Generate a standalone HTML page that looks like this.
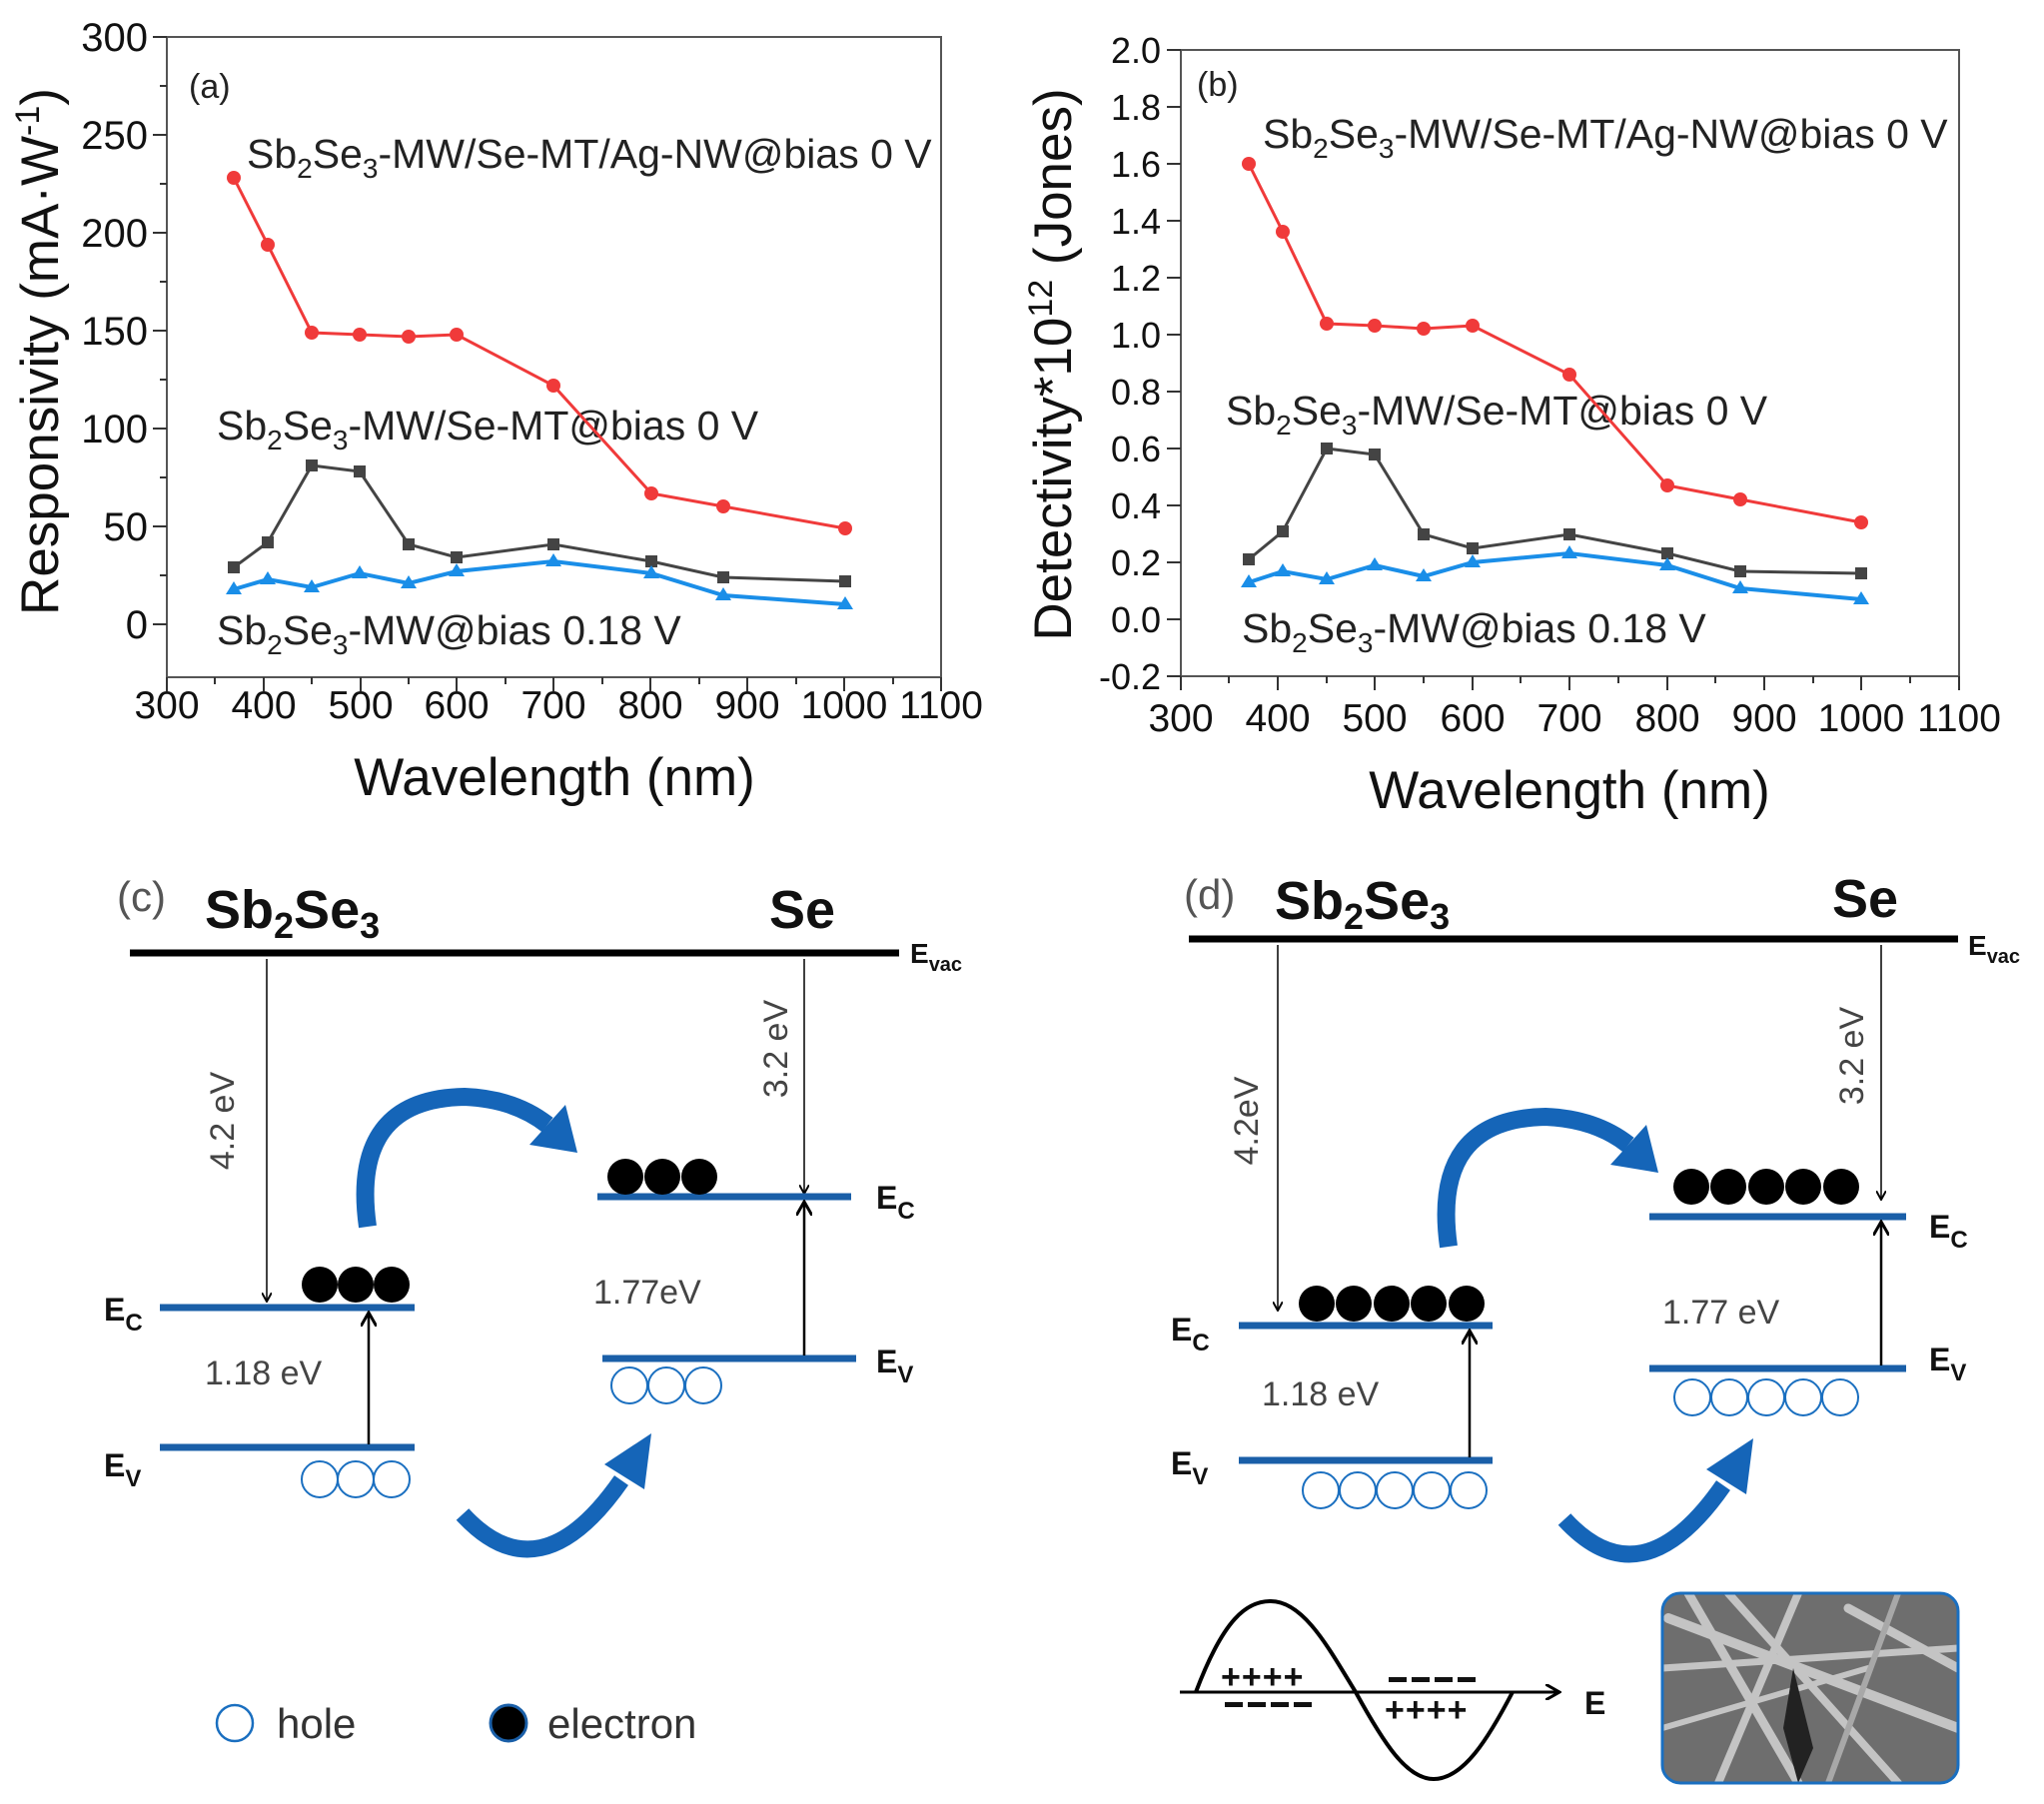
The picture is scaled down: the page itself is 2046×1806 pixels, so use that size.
<!DOCTYPE html>
<html><head><meta charset="utf-8"><style>
html,body{margin:0;padding:0;background:#fff}
svg{display:block}
text{font-family:"Liberation Sans",sans-serif}
</style></head><body>
<svg width="2046" height="1806" viewBox="0 0 2046 1806" xmlns="http://www.w3.org/2000/svg">
<defs>
<marker id="ah" markerWidth="10" markerHeight="10" refX="8" refY="5" orient="auto" markerUnits="userSpaceOnUse"><path d="M0,0 L9,5 L0,10" fill="none" stroke="#000" stroke-width="2"/></marker>
<marker id="ah2" markerWidth="16" markerHeight="16" refX="13" refY="8" orient="auto" markerUnits="userSpaceOnUse"><path d="M0,0 L14,8 L0,16" fill="none" stroke="#000" stroke-width="3"/></marker>
<clipPath id="semclip"><rect x="1664" y="1595" width="296" height="190" rx="18"/></clipPath>
</defs>

<!-- ============ (a) ============ -->
<rect x="167" y="37" width="775" height="641" fill="none" stroke="#555" stroke-width="2"/>
<g stroke="#333" stroke-width="2">
<line x1="153" y1="625" x2="167" y2="625"/><line x1="153" y1="527" x2="167" y2="527"/><line x1="153" y1="429" x2="167" y2="429"/><line x1="153" y1="331" x2="167" y2="331"/><line x1="153" y1="233" x2="167" y2="233"/><line x1="153" y1="135" x2="167" y2="135"/><line x1="153" y1="37" x2="167" y2="37"/>
<line x1="160" y1="576" x2="167" y2="576"/><line x1="160" y1="478" x2="167" y2="478"/><line x1="160" y1="380" x2="167" y2="380"/><line x1="160" y1="282" x2="167" y2="282"/><line x1="160" y1="184" x2="167" y2="184"/><line x1="160" y1="86" x2="167" y2="86"/>
<line x1="167" y1="678" x2="167" y2="692"/><line x1="264" y1="678" x2="264" y2="692"/><line x1="361" y1="678" x2="361" y2="692"/><line x1="457" y1="678" x2="457" y2="692"/><line x1="554" y1="678" x2="554" y2="692"/><line x1="651" y1="678" x2="651" y2="692"/><line x1="748" y1="678" x2="748" y2="692"/><line x1="845" y1="678" x2="845" y2="692"/><line x1="942" y1="678" x2="942" y2="692"/>
<line x1="215" y1="678" x2="215" y2="685"/><line x1="312" y1="678" x2="312" y2="685"/><line x1="409" y1="678" x2="409" y2="685"/><line x1="506" y1="678" x2="506" y2="685"/><line x1="603" y1="678" x2="603" y2="685"/><line x1="700" y1="678" x2="700" y2="685"/><line x1="797" y1="678" x2="797" y2="685"/><line x1="894" y1="678" x2="894" y2="685"/>
</g>
<g font-size="40" fill="#111" text-anchor="end">
<text x="148" y="639">0</text><text x="148" y="541">50</text><text x="148" y="443">100</text><text x="148" y="345">150</text><text x="148" y="247">200</text><text x="148" y="149">250</text><text x="148" y="51">300</text>
</g>
<g font-size="39" fill="#111" text-anchor="middle">
<text x="167" y="719">300</text><text x="264" y="719">400</text><text x="361" y="719">500</text><text x="457" y="719">600</text><text x="554" y="719">700</text><text x="651" y="719">800</text><text x="748" y="719">900</text><text x="845" y="719">1000</text><text x="942" y="719">1100</text>
</g>
<text x="555" y="796" font-size="53" text-anchor="middle" fill="#111">Wavelength (nm)</text>
<text transform="translate(58,352) rotate(-90)" font-size="53" text-anchor="middle" fill="#111">Responsivity (mA·W<tspan font-size="34" dy="-19">-1</tspan><tspan dy="19">)</tspan></text>
<text x="189" y="98" font-size="34" fill="#222">(a)</text>
<text x="247" y="168" font-size="41" fill="#222">Sb<tspan font-size="28" dy="10">2</tspan><tspan dy="-10">Se</tspan><tspan font-size="28" dy="10">3</tspan><tspan dy="-10">-MW/Se-MT/Ag-NW@bias 0 V</tspan></text>
<text x="217" y="440" font-size="41" fill="#222">Sb<tspan font-size="28" dy="10">2</tspan><tspan dy="-10">Se</tspan><tspan font-size="28" dy="10">3</tspan><tspan dy="-10">-MW/Se-MT@bias 0 V</tspan></text>
<text x="217" y="645" font-size="41" fill="#222">Sb<tspan font-size="28" dy="10">2</tspan><tspan dy="-10">Se</tspan><tspan font-size="28" dy="10">3</tspan><tspan dy="-10">-MW@bias 0.18 V</tspan></text>
<polyline fill="none" stroke="#f03a3a" stroke-width="3" points="234,178 268,245 312,333 360,335 409,337 457,335 554,386 652,494 724,507 846,529"/>
<g fill="#f03a3a"><circle cx="234" cy="178" r="7"/><circle cx="268" cy="245" r="7"/><circle cx="312" cy="333" r="7"/><circle cx="360" cy="335" r="7"/><circle cx="409" cy="337" r="7"/><circle cx="457" cy="335" r="7"/><circle cx="554" cy="386" r="7"/><circle cx="652" cy="494" r="7"/><circle cx="724" cy="507" r="7"/><circle cx="846" cy="529" r="7"/></g>
<polyline fill="none" stroke="#444" stroke-width="3" points="234,568 268,543 312,466 360,472 409,545 457,558 554,545 652,562 724,578 846,582"/>
<g fill="#444"><rect x="228" y="562" width="12" height="12"/><rect x="262" y="537" width="12" height="12"/><rect x="306" y="460" width="12" height="12"/><rect x="354" y="466" width="12" height="12"/><rect x="403" y="539" width="12" height="12"/><rect x="451" y="552" width="12" height="12"/><rect x="548" y="539" width="12" height="12"/><rect x="646" y="556" width="12" height="12"/><rect x="718" y="572" width="12" height="12"/><rect x="840" y="576" width="12" height="12"/></g>
<polyline fill="none" stroke="#1a8ee8" stroke-width="4" points="234,590 268,580 312,588 360,574 409,584 457,572 554,562 652,574 724,596 846,605"/>
<g fill="#1a8ee8"><path d="M234,582l8,13h-16z"/><path d="M268,572l8,13h-16z"/><path d="M312,580l8,13h-16z"/><path d="M360,566l8,13h-16z"/><path d="M409,576l8,13h-16z"/><path d="M457,564l8,13h-16z"/><path d="M554,554l8,13h-16z"/><path d="M652,566l8,13h-16z"/><path d="M724,588l8,13h-16z"/><path d="M846,597l8,13h-16z"/></g>

<!-- ============ (b) ============ -->
<rect x="1182" y="50" width="779" height="627" fill="none" stroke="#555" stroke-width="2"/>
<g stroke="#333" stroke-width="2">
<line x1="1168" y1="677" x2="1182" y2="677"/><line x1="1168" y1="620" x2="1182" y2="620"/><line x1="1168" y1="563" x2="1182" y2="563"/><line x1="1168" y1="506" x2="1182" y2="506"/><line x1="1168" y1="449" x2="1182" y2="449"/><line x1="1168" y1="392" x2="1182" y2="392"/><line x1="1168" y1="335" x2="1182" y2="335"/><line x1="1168" y1="278" x2="1182" y2="278"/><line x1="1168" y1="221" x2="1182" y2="221"/><line x1="1168" y1="164" x2="1182" y2="164"/><line x1="1168" y1="107" x2="1182" y2="107"/><line x1="1168" y1="50" x2="1182" y2="50"/>
<line x1="1182" y1="677" x2="1182" y2="691"/><line x1="1279" y1="677" x2="1279" y2="691"/><line x1="1376" y1="677" x2="1376" y2="691"/><line x1="1474" y1="677" x2="1474" y2="691"/><line x1="1571" y1="677" x2="1571" y2="691"/><line x1="1669" y1="677" x2="1669" y2="691"/><line x1="1766" y1="677" x2="1766" y2="691"/><line x1="1863" y1="677" x2="1863" y2="691"/><line x1="1961" y1="677" x2="1961" y2="691"/>
<line x1="1230" y1="677" x2="1230" y2="684"/><line x1="1328" y1="677" x2="1328" y2="684"/><line x1="1425" y1="677" x2="1425" y2="684"/><line x1="1522" y1="677" x2="1522" y2="684"/><line x1="1620" y1="677" x2="1620" y2="684"/><line x1="1717" y1="677" x2="1717" y2="684"/><line x1="1815" y1="677" x2="1815" y2="684"/><line x1="1912" y1="677" x2="1912" y2="684"/>
</g>
<g font-size="36" fill="#111" text-anchor="end">
<text x="1162" y="690">-0.2</text><text x="1162" y="633">0.0</text><text x="1162" y="576">0.2</text><text x="1162" y="519">0.4</text><text x="1162" y="462">0.6</text><text x="1162" y="405">0.8</text><text x="1162" y="348">1.0</text><text x="1162" y="291">1.2</text><text x="1162" y="234">1.4</text><text x="1162" y="177">1.6</text><text x="1162" y="120">1.8</text><text x="1162" y="63">2.0</text>
</g>
<g font-size="39" fill="#111" text-anchor="middle">
<text x="1182" y="732">300</text><text x="1279" y="732">400</text><text x="1376" y="732">500</text><text x="1474" y="732">600</text><text x="1571" y="732">700</text><text x="1669" y="732">800</text><text x="1766" y="732">900</text><text x="1863" y="732">1000</text><text x="1961" y="732">1100</text>
</g>
<text x="1571" y="809" font-size="53" text-anchor="middle" fill="#111">Wavelength (nm)</text>
<text transform="translate(1072,365) rotate(-90)" font-size="53" text-anchor="middle" fill="#111">Detectivity*10<tspan font-size="34" dy="-19">12</tspan><tspan dy="19"> (Jones)</tspan></text>
<text x="1198" y="96" font-size="34" fill="#222">(b)</text>
<text x="1264" y="148" font-size="41" fill="#222">Sb<tspan font-size="28" dy="10">2</tspan><tspan dy="-10">Se</tspan><tspan font-size="28" dy="10">3</tspan><tspan dy="-10">-MW/Se-MT/Ag-NW@bias 0 V</tspan></text>
<text x="1227" y="425" font-size="41" fill="#222">Sb<tspan font-size="28" dy="10">2</tspan><tspan dy="-10">Se</tspan><tspan font-size="28" dy="10">3</tspan><tspan dy="-10">-MW/Se-MT@bias 0 V</tspan></text>
<text x="1243" y="643" font-size="41" fill="#222">Sb<tspan font-size="28" dy="10">2</tspan><tspan dy="-10">Se</tspan><tspan font-size="28" dy="10">3</tspan><tspan dy="-10">-MW@bias 0.18 V</tspan></text>
<polyline fill="none" stroke="#f03a3a" stroke-width="3" points="1250,164 1284,232 1328,324 1376,326 1425,329 1474,326 1571,375 1669,486 1742,500 1863,523"/>
<g fill="#f03a3a"><circle cx="1250" cy="164" r="7"/><circle cx="1284" cy="232" r="7"/><circle cx="1328" cy="324" r="7"/><circle cx="1376" cy="326" r="7"/><circle cx="1425" cy="329" r="7"/><circle cx="1474" cy="326" r="7"/><circle cx="1571" cy="375" r="7"/><circle cx="1669" cy="486" r="7"/><circle cx="1742" cy="500" r="7"/><circle cx="1863" cy="523" r="7"/></g>
<polyline fill="none" stroke="#444" stroke-width="3" points="1250,560 1284,532 1328,449 1376,455 1425,535 1474,549 1571,535 1669,554 1742,572 1863,574"/>
<g fill="#444"><rect x="1244" y="554" width="12" height="12"/><rect x="1278" y="526" width="12" height="12"/><rect x="1322" y="443" width="12" height="12"/><rect x="1370" y="449" width="12" height="12"/><rect x="1419" y="529" width="12" height="12"/><rect x="1468" y="543" width="12" height="12"/><rect x="1565" y="529" width="12" height="12"/><rect x="1663" y="548" width="12" height="12"/><rect x="1736" y="566" width="12" height="12"/><rect x="1857" y="568" width="12" height="12"/></g>
<polyline fill="none" stroke="#1a8ee8" stroke-width="4" points="1250,583 1284,572 1328,580 1376,566 1425,577 1474,563 1571,554 1669,566 1742,589 1863,600"/>
<g fill="#1a8ee8"><path d="M1250,575l8,13h-16z"/><path d="M1284,564l8,13h-16z"/><path d="M1328,572l8,13h-16z"/><path d="M1376,558l8,13h-16z"/><path d="M1425,569l8,13h-16z"/><path d="M1474,555l8,13h-16z"/><path d="M1571,546l8,13h-16z"/><path d="M1669,558l8,13h-16z"/><path d="M1742,581l8,13h-16z"/><path d="M1863,592l8,13h-16z"/></g>

<!-- ============ (c) ============ -->
<text x="117" y="912" font-size="42" fill="#555">(c)</text>
<text x="205" y="929" font-size="54" font-weight="bold" fill="#111">Sb<tspan font-size="36" dy="10">2</tspan><tspan dy="-10">Se</tspan><tspan font-size="36" dy="10">3</tspan></text>
<text x="770" y="929" font-size="54" font-weight="bold" fill="#111">Se</text>
<line x1="130" y1="954" x2="900" y2="954" stroke="#000" stroke-width="7"/>
<text x="911" y="964" font-size="28" font-weight="bold" fill="#111">E<tspan font-size="20" dy="8">vac</tspan></text>
<line x1="267" y1="960" x2="267" y2="1302" stroke="#000" stroke-width="1.5" marker-end="url(#ah)"/>
<text transform="translate(234,1122) rotate(-90)" font-size="34" fill="#444" text-anchor="middle">4.2 eV</text>
<line x1="805" y1="960" x2="805" y2="1194" stroke="#000" stroke-width="1.5" marker-end="url(#ah)"/>
<text transform="translate(788,1050) rotate(-90)" font-size="34" fill="#444" text-anchor="middle">3.2 eV</text>
<g stroke="#1a5fa8" stroke-width="7">
<line x1="160" y1="1309" x2="415" y2="1309"/><line x1="160" y1="1449" x2="415" y2="1449"/>
<line x1="598" y1="1198" x2="852" y2="1198"/><line x1="603" y1="1360" x2="857" y2="1360"/>
</g>
<line x1="369" y1="1446" x2="369" y2="1315" stroke="#000" stroke-width="2.5" marker-end="url(#ah2)"/>
<line x1="805" y1="1357" x2="805" y2="1204" stroke="#000" stroke-width="2.5" marker-end="url(#ah2)"/>
<g fill="#000"><circle cx="320" cy="1286" r="18"/><circle cx="356" cy="1286" r="18"/><circle cx="392" cy="1286" r="18"/><circle cx="626" cy="1178" r="18"/><circle cx="663" cy="1178" r="18"/><circle cx="700" cy="1178" r="18"/></g>
<g fill="none" stroke="#1a6fc0" stroke-width="2"><circle cx="320" cy="1481" r="18"/><circle cx="356" cy="1481" r="18"/><circle cx="392" cy="1481" r="18"/><circle cx="630" cy="1387" r="18"/><circle cx="667" cy="1387" r="18"/><circle cx="704" cy="1387" r="18"/></g>
<text x="104" y="1322" font-size="32" font-weight="bold" fill="#111">E<tspan font-size="24" dy="10">C</tspan></text>
<text x="104" y="1478" font-size="32" font-weight="bold" fill="#111">E<tspan font-size="24" dy="10">V</tspan></text>
<text x="877" y="1210" font-size="32" font-weight="bold" fill="#111">E<tspan font-size="24" dy="10">C</tspan></text>
<text x="877" y="1374" font-size="32" font-weight="bold" fill="#111">E<tspan font-size="24" dy="10">V</tspan></text>
<text x="205" y="1386" font-size="34" fill="#444">1.18 eV</text>
<text x="594" y="1305" font-size="34" fill="#444">1.77eV</text>
<g>
<path d="M368,1228 Q350,1100 465,1098 Q515,1100 548,1126" fill="none" stroke="#1565b8" stroke-width="18"/>
<path d="M530,1146 L566,1106 L578,1154 Z" fill="#1565b8"/>
</g>
<g>
<path d="M463,1516 Q540,1600 622,1482" fill="none" stroke="#1565b8" stroke-width="17"/>
<path d="M605,1466 L645,1491 L652,1435 Z" fill="#1565b8"/>
</g>
<circle cx="235" cy="1725" r="18" fill="none" stroke="#1a6fc0" stroke-width="2.5"/>
<text x="277" y="1740" font-size="42" fill="#333">hole</text>
<circle cx="509" cy="1725" r="18" fill="#000" stroke="#1a5fa8" stroke-width="3"/>
<text x="548" y="1740" font-size="42" fill="#333">electron</text>

<!-- ============ (d) ============ -->
<text x="1185" y="910" font-size="42" fill="#555">(d)</text>
<text x="1276" y="920" font-size="54" font-weight="bold" fill="#111">Sb<tspan font-size="36" dy="10">2</tspan><tspan dy="-10">Se</tspan><tspan font-size="36" dy="10">3</tspan></text>
<text x="1834" y="918" font-size="54" font-weight="bold" fill="#111">Se</text>
<line x1="1190" y1="940" x2="1960" y2="940" stroke="#000" stroke-width="7"/>
<text x="1970" y="956" font-size="28" font-weight="bold" fill="#111">E<tspan font-size="20" dy="8">vac</tspan></text>
<line x1="1279" y1="946" x2="1279" y2="1311" stroke="#000" stroke-width="1.5" marker-end="url(#ah)"/>
<text transform="translate(1259,1122) rotate(-90)" font-size="34" fill="#444" text-anchor="middle">4.2eV</text>
<line x1="1883" y1="946" x2="1883" y2="1200" stroke="#000" stroke-width="1.5" marker-end="url(#ah)"/>
<text transform="translate(1865,1057) rotate(-90)" font-size="34" fill="#444" text-anchor="middle">3.2 eV</text>
<g stroke="#1a5fa8" stroke-width="7">
<line x1="1240" y1="1327" x2="1494" y2="1327"/><line x1="1240" y1="1462" x2="1494" y2="1462"/>
<line x1="1651" y1="1218" x2="1908" y2="1218"/><line x1="1651" y1="1370" x2="1908" y2="1370"/>
</g>
<line x1="1471" y1="1459" x2="1471" y2="1333" stroke="#000" stroke-width="2.5" marker-end="url(#ah2)"/>
<line x1="1883" y1="1367" x2="1883" y2="1224" stroke="#000" stroke-width="2.5" marker-end="url(#ah2)"/>
<g fill="#000"><circle cx="1318" cy="1305" r="18"/><circle cx="1355" cy="1305" r="18"/><circle cx="1393" cy="1305" r="18"/><circle cx="1430" cy="1305" r="18"/><circle cx="1468" cy="1305" r="18"/>
<circle cx="1693" cy="1188" r="18"/><circle cx="1730" cy="1188" r="18"/><circle cx="1768" cy="1188" r="18"/><circle cx="1805" cy="1188" r="18"/><circle cx="1843" cy="1188" r="18"/></g>
<g fill="none" stroke="#1a6fc0" stroke-width="2"><circle cx="1322" cy="1492" r="18"/><circle cx="1359" cy="1492" r="18"/><circle cx="1396" cy="1492" r="18"/><circle cx="1433" cy="1492" r="18"/><circle cx="1470" cy="1492" r="18"/>
<circle cx="1694" cy="1399" r="18"/><circle cx="1731" cy="1399" r="18"/><circle cx="1768" cy="1399" r="18"/><circle cx="1805" cy="1399" r="18"/><circle cx="1842" cy="1399" r="18"/></g>
<text x="1172" y="1342" font-size="32" font-weight="bold" fill="#111">E<tspan font-size="24" dy="10">C</tspan></text>
<text x="1172" y="1476" font-size="32" font-weight="bold" fill="#111">E<tspan font-size="24" dy="10">V</tspan></text>
<text x="1931" y="1239" font-size="32" font-weight="bold" fill="#111">E<tspan font-size="24" dy="10">C</tspan></text>
<text x="1931" y="1372" font-size="32" font-weight="bold" fill="#111">E<tspan font-size="24" dy="10">V</tspan></text>
<text x="1263" y="1407" font-size="34" fill="#444">1.18 eV</text>
<text x="1664" y="1325" font-size="34" fill="#444">1.77 eV</text>
<g transform="translate(1082,20)">
<path d="M368,1228 Q350,1100 465,1098 Q515,1100 548,1126" fill="none" stroke="#1565b8" stroke-width="18"/>
<path d="M530,1146 L566,1106 L578,1154 Z" fill="#1565b8"/>
</g>
<g transform="translate(1103,5)">
<path d="M463,1516 Q540,1600 622,1482" fill="none" stroke="#1565b8" stroke-width="17"/>
<path d="M605,1466 L645,1491 L652,1435 Z" fill="#1565b8"/>
</g>
<!-- sine -->
<line x1="1181" y1="1694" x2="1560" y2="1694" stroke="#000" stroke-width="3" marker-end="url(#ah2)"/>
<path d="M1197,1694 C1225,1620 1248,1603 1272,1603 C1305,1603 1330,1650 1357,1694 C1385,1745 1408,1781 1435,1781 C1465,1781 1490,1740 1514,1694" fill="none" stroke="#000" stroke-width="4"/>
<text x="1586" y="1716" font-size="32" font-weight="bold" fill="#111">E</text>
<g font-size="34" font-weight="bold" fill="#111">
<text x="1222" y="1690" letter-spacing="1">++++</text>
<text x="1386" y="1723" letter-spacing="1">++++</text>
</g>
<g fill="#111">
<rect x="1226" y="1704" width="18" height="5"/><rect x="1249" y="1704" width="18" height="5"/><rect x="1272" y="1704" width="18" height="5"/><rect x="1295" y="1704" width="18" height="5"/>
<rect x="1390" y="1679" width="18" height="5"/><rect x="1413" y="1679" width="18" height="5"/><rect x="1436" y="1679" width="18" height="5"/><rect x="1459" y="1679" width="18" height="5"/>
</g>
<!-- SEM -->
<g clip-path="url(#semclip)">
<rect x="1664" y="1595" width="296" height="190" fill="#6e6e6e"/>
<g stroke="#c4c4c4" stroke-linecap="round" fill="none">
<path d="M1670,1620 L1960,1730" stroke-width="10"/>
<path d="M1690,1595 L1800,1785" stroke-width="9"/>
<path d="M1730,1595 L1900,1785" stroke-width="8"/>
<path d="M1664,1670 L1960,1650" stroke-width="7"/>
<path d="M1800,1595 L1720,1785" stroke-width="8"/>
<path d="M1850,1610 L1960,1670" stroke-width="9"/>
<path d="M1664,1730 L1870,1670" stroke-width="6"/>
<path d="M1900,1595 L1830,1785" stroke-width="6" stroke="#a8a8a8"/>
</g>
<path d="M1795,1670 L1815,1750 L1800,1785 L1785,1730 Z" fill="#222"/>
</g>
<rect x="1664" y="1595" width="296" height="190" rx="18" fill="none" stroke="#1a6fc0" stroke-width="3"/>
</svg>
</body></html>
